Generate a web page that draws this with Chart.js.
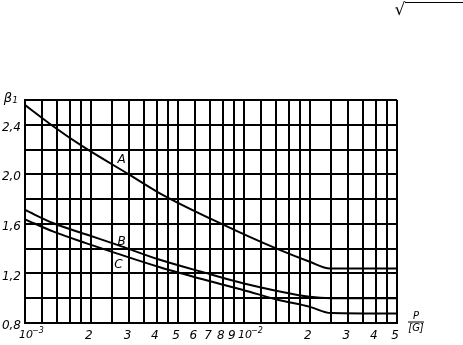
<!DOCTYPE html>
<html>
<head>
<meta charset="utf-8">
<script src="https://cdn.jsdelivr.net/npm/chart.js@4.4.1/dist/chart.umd.min.js"></script>
<style>
  html, body { margin: 0; padding: 0; background: #fff; }
  canvas { display: block; }
</style>
</head>
<body>
<canvas id="beta" width="463" height="345"></canvas>
<script>
// P/[G] values are in units of 1e-3
const pA = [1, 1.35, 1.82, 3.01, 4.13, 7.9, 14.1, 20, 24.7, 50];
const betaA = [2.56, 2.386, 2.229, 1.995, 1.847, 1.6, 1.4, 1.294, 1.24, 1.24];
const pB = [1, 1.35, 1.91, 2.62, 4.13, 7, 10, 20, 25, 50];
const betaB = [1.712, 1.605, 1.514, 1.433, 1.31, 1.194, 1.119, 1.011, 1.0, 1.0];
const pC = [1, 1.35, 1.91, 2.62, 4.13, 7, 10, 14.1, 20, 25, 50];
const betaC = [1.637, 1.537, 1.443, 1.362, 1.25, 1.137, 1.065, 0.99, 0.93, 0.88, 0.876];

const curveNames = ['A', 'B', 'C'];
const curveLabelP = [2.76, 2.76, 2.67];
const curveLabelBeta = [2.117, 1.456, 1.267];

const gridP = [1, 1.2, 1.4, 1.6, 1.8, 2, 2.5, 3, 3.5, 4, 4.5, 5, 6, 7, 8, 9, 10,
               12, 14, 16, 18, 20, 25, 30, 35, 40, 45, 50];
const xTickP = [2, 3, 4, 5, 6, 7, 8, 9, 20, 30, 40, 50];
const xTickText = ['2', '3', '4', '5', '6', '7', '8', '9', '2', '3', '4', '5'];
const decadeP = [1, 10];
const decadeExp = ['−3', '−2'];
const yLabelled = [0.8, 1.2, 1.6, 2.0, 2.4];

const toPts = (ps, bs) => ps.map((p, i) => ({x: p * 1e-3, y: bs[i]}));
const font = {family: 'DejaVu Sans', style: 'italic', size: 12};

const extras = {
    id: 'extras',
    afterDraw(chart) {
        const ctx = chart.ctx;
        const xs = chart.scales.x, ys = chart.scales.y;
        ctx.save();
        ctx.fillStyle = '#000';
        ctx.strokeStyle = '#000';
        ctx.font = 'italic 12px "DejaVu Sans"';
        ctx.textAlign = 'center';
        ctx.textBaseline = 'middle';
        curveNames.forEach((n, i) => {
            ctx.fillText(n, xs.getPixelForValue(curveLabelP[i] * 1e-3), ys.getPixelForValue(curveLabelBeta[i]));
        });
        // decade labels 10^-3, 10^-2
        ctx.textAlign = 'left';
        ctx.textBaseline = 'alphabetic';
        decadeP.forEach((p, i) => {
            const x = xs.getPixelForValue(p * 1e-3);
            ctx.font = 'italic 11px "DejaVu Sans"';
            ctx.fillText('10', x - 6, 338);
            ctx.font = 'italic 8px "DejaVu Sans"';
            ctx.fillText(decadeExp[i], x + 7, 333);
        });
        // axis titles
        ctx.textAlign = 'center';
        ctx.textBaseline = 'middle';
        ctx.font = 'italic 13px "DejaVu Sans"';
        ctx.fillText('β', 8, 99);
        ctx.font = 'italic 9px "DejaVu Sans"';
        ctx.fillText('1', 15, 101);
        ctx.font = 'italic 10px "DejaVu Sans"';
        ctx.fillText('P', 416, 316);
        ctx.fillText('[G]', 416, 328);
        ctx.lineWidth = 1;
        ctx.beginPath();
        ctx.moveTo(408, 322); ctx.lineTo(424, 322);
        ctx.stroke();
        // radical sign at top right
        ctx.font = '17px "DejaVu Sans"';
        ctx.fillText('√', 400, 11);
        ctx.beginPath();
        ctx.moveTo(405, 2.5); ctx.lineTo(463, 2.5);
        ctx.stroke();
        ctx.restore();
    }
};

const lineDs = (data) => ({
    data: data,
    borderColor: '#000',
    borderWidth: 2,
    pointRadius: 0,
    fill: false,
    cubicInterpolationMode: 'monotone'
});

new Chart(document.getElementById('beta'), {
    type: 'line',
    data: {
        datasets: [lineDs(toPts(pA, betaA)), lineDs(toPts(pB, betaB)), lineDs(toPts(pC, betaC))]
    },
    options: {
        responsive: false,
        animation: false,
        layout: {padding: {top: 100, right: 66, left: 0, bottom: 0}},
        plugins: {legend: {display: false}, tooltip: {enabled: false}},
        scales: {
            x: {
                type: 'logarithmic',
                min: 1e-3,
                max: 5e-2,
                afterBuildTicks: (scale) => { scale.ticks = gridP.map(v => ({value: v * 1e-3})); },
                afterFit: (scale) => { scale.height = 22; },
                grid: {color: '#000', lineWidth: 2, drawTicks: false},
                border: {color: '#000', width: 2},
                ticks: {
                    autoSkip: false,
                    maxRotation: 0,
                    padding: 6,
                    labelOffset: -2,
                    color: '#000',
                    font: font,
                    callback: (v) => {
                        const i = xTickP.findIndex(p => Math.abs(p - v * 1e3) < 0.01);
                        return i >= 0 ? xTickText[i] : '';
                    }
                }
            },
            y: {
                min: 0.8,
                max: 2.6,
                afterFit: (scale) => { scale.width = 25; },
                grid: {color: '#000', lineWidth: 2, drawTicks: false},
                border: {color: '#000', width: 2},
                ticks: {
                    stepSize: 0.2,
                    padding: 4,
                    labelOffset: 3,
                    color: '#000',
                    font: font,
                    callback: (v) => {
                        const r = Math.round(v * 10) / 10;
                        return yLabelled.includes(r) ? r.toFixed(1).replace('.', ',') : '';
                    }
                }
            }
        }
    },
    plugins: [extras]
});
</script>
</body>
</html>
